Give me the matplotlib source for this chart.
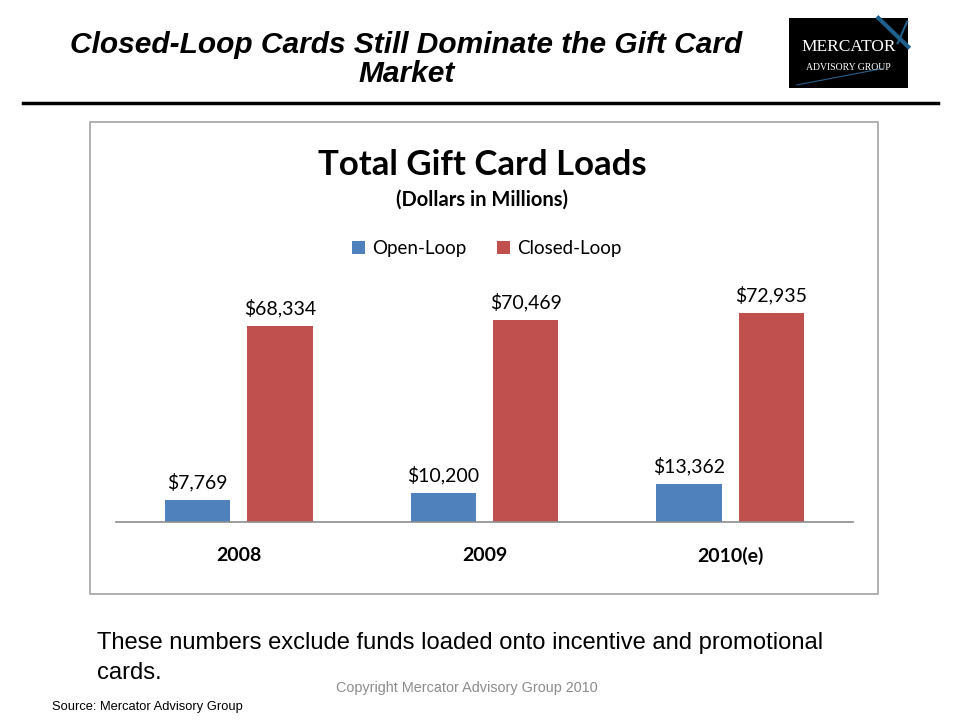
import numpy as np
import matplotlib.pyplot as plt
from matplotlib.patches import Rectangle
from matplotlib.lines import Line2D

years = ["2008", "2009", "2010(e)"]
open_loop = [7769, 10200, 13362]
closed_loop = [68334, 70469, 72935]

blue = "#4f81bd"
red = "#c0504d"

fig = plt.figure(figsize=(9.6, 7.2), dpi=100)
fig.patch.set_facecolor("white")

# slide header
fig.text(0.4234, 0.938, "Closed-Loop Cards Still Dominate the Gift Card", ha="center", va="center",
         fontsize=21.5, fontweight="bold", style="italic", family="Liberation Sans")
fig.text(0.4234, 0.897, "Market", ha="center", va="center",
         fontsize=21.5, fontweight="bold", style="italic", family="Liberation Sans")
fig.add_artist(Line2D([0.024, 0.977], [0.857, 0.857], color="black", lw=2.5))

# logo
fig.add_artist(Rectangle((0.8219, 0.8778), 0.124, 0.0972, facecolor="black", edgecolor="none"))
fig.add_artist(Line2D([0.915, 0.946], [0.975, 0.935], color="#1f5f8b", lw=3))
fig.add_artist(Line2D([0.935, 0.945], [0.940, 0.970], color="#1f5f8b", lw=1.5))
fig.add_artist(Line2D([0.83, 0.92], [0.882, 0.905], color="#2a5f8a", lw=0.8))
fig.text(0.884, 0.935, "MERCATOR", ha="center", va="center", color="white",
         fontsize=12.5, family="Liberation Serif")
fig.text(0.884, 0.906, "ADVISORY GROUP", ha="center", va="center", color="white",
         fontsize=7, family="Liberation Serif")

# chart box
fig.add_artist(Rectangle((0.09375, 0.175), 0.8208, 0.6556, facecolor="white",
                         edgecolor="#a6a6a6", lw=1.2, zorder=-1))
fig.text(0.502, 0.771, "Total Gift Card Loads", ha="center", va="center",
         fontsize=25, fontweight="bold", family="Lato")
fig.text(0.502, 0.723, "(Dollars in Millions)", ha="center", va="center",
         fontsize=14.5, fontweight="bold", family="Lato")

ax = fig.add_axes([0.1208, 0.275, 0.7677, 0.3083])
ax.set_zorder(2)
x = np.arange(len(years))
w = 0.266
off = 0.1675
b1 = ax.bar(x - off, open_loop, w, color=blue, label="Open-Loop")
b2 = ax.bar(x + off, closed_loop, w, color=red, label="Closed-Loop")
ax.set_xlim(-0.5, 2.5)
ax.set_ylim(0, 77400)
for bars, vals in [(b1, open_loop), (b2, closed_loop)]:
    for rect, v in zip(bars, vals):
        ax.annotate("${:,}".format(v), (rect.get_x() + rect.get_width() / 2, v),
                    xytext=(0, 6), textcoords="offset points", ha="center", va="bottom",
                    fontsize=14, family="Lato")
for s in ["top", "right", "left"]:
    ax.spines[s].set_visible(False)
ax.spines["bottom"].set_color("#8c8c8c")
ax.spines["bottom"].set_linewidth(1.2)
ax.set_yticks([])
ax.set_xticks(x)
ax.set_xticklabels(years, fontsize=14, fontweight="bold", family="Lato")
ax.tick_params(axis="x", length=0, pad=18)
ax.patch.set_alpha(0)

leg = fig.legend(handles=[b1, b2], loc="center", bbox_to_anchor=(0.507, 0.655), ncol=2,
                 frameon=False, handlelength=0.7, handleheight=0.7,
                 handletextpad=0.4, columnspacing=1.6, prop={"family": "Lato", "size": 13.5})

# notes
fig.text(0.101, 0.107, "These numbers exclude funds loaded onto incentive and promotional",
         ha="left", va="center", fontsize=17.1, family="Liberation Sans")
fig.text(0.101, 0.065, "cards.", ha="left", va="center", fontsize=17.1, family="Liberation Sans")
fig.text(0.486, 0.044, "Copyright Mercator Advisory Group 2010", ha="center", va="center",
         fontsize=10.4, color="#8c8c8c", family="Liberation Sans")
fig.text(0.054, 0.018, "Source: Mercator Advisory Group", ha="left", va="center",
         fontsize=9.3, family="Liberation Sans")

fig.savefig("out.png", dpi=100)
